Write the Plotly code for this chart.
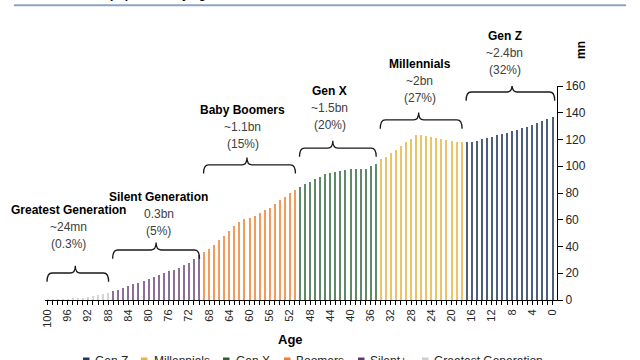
import plotly.graph_objects as go

# ---------------- data ----------------
ages = list(range(0, 101))
population_mn = [
    136.6, 135.1, 133.6, 132.3, 131.1, 129.6, 128.6, 127.4, 126.1, 125.1,   # 0-9
    124.1, 123.1, 122.1, 121.4, 120.1, 119.1, 118.4, 117.9, 117.9, 118.4,   # 10-19
    118.9, 119.6, 120.1, 121.1, 122.1, 122.9, 123.6, 123.1, 120.6, 118.4,   # 20-29
    115.1, 112.1, 109.7, 107.2, 105.2, 101.7, 100.2, 98.2, 97.9, 97.7,      # 30-39
    97.7, 97.4, 96.7, 96.0, 95.2, 94.0, 92.2, 90.5, 88.5, 86.5,             # 40-49
    84.2, 82.2, 79.8, 77.0, 74.5, 71.8, 68.5, 67.0, 64.8, 63.1,             # 50-59
    61.3, 60.3, 58.3, 55.3, 51.6, 47.9, 44.6, 41.1, 38.4, 35.9,             # 60-69
    33.6, 30.4, 28.0, 26.0, 24.3, 22.8, 21.4, 20.0, 18.6, 17.2,             # 70-79
    15.8, 14.4, 13.0, 11.6, 10.3, 9.0, 7.8, 6.7, 5.2, 4.4,                  # 80-89
    3.6, 2.9, 2.3, 1.8, 1.3, 1.0, 0.7, 0.5, 0.3, 0.2,                       # 90-99
    0.4,                                                                    # 100
]

gen_names = ["Gen Z", "Millennials", "Gen X", "Boomers", "Silent+", "Greatest Generation"]
gen_min_age = [0, 18, 35, 51, 70, 88]
gen_max_age = [17, 34, 50, 69, 87, 100]

brace_titles = ["Gen Z", "Millennials", "Gen X", "Baby Boomers", "Silent Generation", "Greatest Generation"]
brace_sizes = ["~2.4bn", "~2bn", "~1.5bn", "~1.1bn", "0.3bn", "~24mn"]
brace_shares = ["(32%)", "(27%)", "(20%)", "(15%)", "(5%)", "(0.3%)"]

tick_ages = list(range(0, 101, 4))

# ---------------- styles / layout positions ----------------
legend_colors = ["#1F3864", "#E5B444", "#2E5E3B", "#ED7D31", "#5B3A6E", "#CFCDCD"]
bar_colors = ["#4E5F80", "#EBC466", "#5E8A69", "#F39B5C", "#8B7199", "#D6D4D4"]

PL, PR, PT, PB = 45, 557, 86, 300      # plot area in pixels
W, H = 640, 360


def px_x(px):
    return (px - PL) / (PR - PL)


def px_y(py):
    return (PB - py) / (PB - PT)


Y_MAX = 160.0
brace_level = [155.5, 134.6, 113.6, 101.0, 37.4, 20.2]     # horizontal level of each brace (mn)
brace_center = [8.0, 26.5, 43.5, 60.5, 78.5, 94.5]          # age at the brace peak
label_x = [9.4, 26.3, 44.1, 61.3, 78.0, 95.8]               # age at label centre
label_y0 = [197.4, 176.4, 156.3, 142.0, 77.0, 67.3]         # value level of first label line
line_step = 12.8

legend_sq_px = [83, 141, 223, 284, 358, 422]
legend_txt_px = [93, 151.5, 234, 294, 367.5, 431.5]

FONT = "Liberation Sans, Arial, sans-serif"

fig = go.Figure()
for name, lo, hi, col in zip(gen_names, gen_min_age, gen_max_age, bar_colors):
    xs = [a for a in ages if lo <= a <= hi]
    ys = [population_mn[a] for a in xs]
    fig.add_trace(go.Bar(x=xs, y=ys, name=name, width=0.22, showlegend=False,
                         marker=dict(color=col, line=dict(width=0))))

shapes = []
hook = 6.5
peak = 5.5
for lo, hi, lev, cx in zip(gen_min_age, gen_max_age, brace_level, brace_center):
    x0 = hi + 0.1
    x1 = lo - 0.1 if lo > 0 else -0.45
    d = 1.0
    path = (f"M {x0},{lev - hook} Q {x0},{lev} {x0 - d},{lev} "
            f"L {cx + d},{lev} Q {cx},{lev} {cx},{lev + peak} "
            f"Q {cx},{lev} {cx - d},{lev} "
            f"L {x1 + d},{lev} Q {x1},{lev} {x1},{lev - hook}")
    shapes.append(dict(type="path", path=path, xref="x", yref="y",
                       line=dict(color="#1a1a1a", width=1.3)))

# top rule under the (cropped) title
shapes.append(dict(type="line", xref="paper", yref="paper",
                   x0=px_x(14), x1=px_x(626), y0=px_y(5.2), y1=px_y(5.2),
                   line=dict(color="#8EA4C8", width=2)))

annotations = []
for t, s, p, lx, ly in zip(brace_titles, brace_sizes, brace_shares, label_x, label_y0):
    for k, (txt, col) in enumerate([(f"<b>{t}</b>", "#000000"), (s, "#404040"), (p, "#404040")]):
        annotations.append(dict(x=lx, y=(ly - k * line_step) / Y_MAX, xref="x", yref="paper",
                                xanchor="center", yanchor="middle",
                                text=txt, showarrow=False,
                                font=dict(family=FONT, size=12, color=col)))

annotations.append(dict(x=51.8, y=px_y(339), xref="x", yref="paper", text="<b>Age</b>",
                        xanchor="center", yanchor="middle",
                        showarrow=False, font=dict(family=FONT, size=13, color="#000000")))
annotations.append(dict(x=px_x(581), y=px_y(50), xref="paper", yref="paper", text="<b>mn</b>",
                        xanchor="center", yanchor="middle",
                        textangle=-90, showarrow=False,
                        font=dict(family=FONT, size=12, color="#000000")))
# cropped title: only the descenders reach into the picture
annotations.append(dict(x=px_x(71), y=px_y(2.5), xref="paper", yref="paper", xanchor="left",
                        yanchor="bottom", text="<b>World population by age</b>",
                        showarrow=False, font=dict(family=FONT, size=12, color="#000000")))

# manual legend (cropped at the bottom edge, as in the reference)
for name, col, sq, tx in zip(gen_names, legend_colors, legend_sq_px, legend_txt_px):
    shapes.append(dict(type="rect", xref="paper", yref="paper",
                       x0=px_x(sq), x1=px_x(sq + 6.5), y0=px_y(357.5), y1=px_y(364.5),
                       fillcolor=col, line=dict(width=0)))
    annotations.append(dict(x=px_x(tx), y=px_y(361), xref="paper", yref="paper",
                            xanchor="left", yanchor="middle", text=name, showarrow=False,
                            font=dict(family=FONT, size=12, color="#262626")))

fig.update_layout(
    width=W, height=H, autosize=False,
    margin=dict(l=PL, r=W - PR, t=PT, b=H - PB, autoexpand=False),
    plot_bgcolor="white", paper_bgcolor="white",
    bargap=0, barmode="overlay",
    font=dict(family=FONT, size=11, color="#262626"),
    shapes=shapes, annotations=annotations,
    showlegend=False,
    xaxis=dict(range=[100.5, -0.9], tickmode="array", tickvals=tick_ages,
               ticktext=[str(a) for a in tick_ages], tickangle=-90,
               ticks="outside", ticklen=4, tickcolor="#000000",
               minor=dict(dtick=1, tick0=0, ticks="outside", ticklen=4,
                          tickcolor="#000000", showgrid=False),
               showline=True, linecolor="#000000", linewidth=1,
               showgrid=False, zeroline=False,
               tickfont=dict(family=FONT, size=11, color="#262626")),
    yaxis=dict(range=[0, Y_MAX], dtick=20, side="right",
               ticks="outside", ticklen=5, tickcolor="#000000",
               showline=True, linecolor="#000000", linewidth=1,
               showgrid=False, zeroline=False,
               tickfont=dict(family=FONT, size=12, color="#262626")),
)

fig.write_html(
    "out.html",
    config={"displayModeBar": False},
    post_script="document.body.style.margin='0';document.body.style.padding='0';"
                "document.body.style.overflow='hidden';",
)
